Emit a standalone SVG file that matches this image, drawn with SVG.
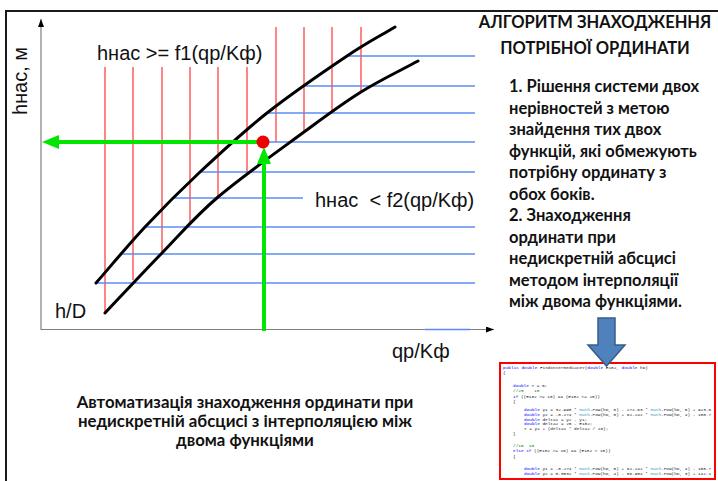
<svg xmlns="http://www.w3.org/2000/svg" width="718" height="481" viewBox="0 0 718 481">
<style>
  .red { stroke: #ff3333; stroke-width: 1.2; fill: none; }
  .blue { stroke: #5b8cf5; stroke-width: 1.5; fill: none; }
  .curve { stroke: #000; stroke-width: 3; fill: none; stroke-linecap: round; }
  .axis { stroke: #7f7f7f; stroke-width: 1.2; fill: none; }
  .green { stroke: #00e600; stroke-width: 4; fill: none; }
  .lbl { font-family: "Liberation Sans", Arial, sans-serif; font-size: 20px; fill: #111; }
  .title { font-family: Lato, "Liberation Sans", sans-serif; font-weight: bold; font-size: 16.5px; fill: #111; text-anchor: middle; }
  .body { font-family: Lato, "Liberation Sans", sans-serif; font-weight: bold; font-size: 16.5px; fill: #111; }
  .cap { font-family: Lato, "Liberation Sans", sans-serif; font-weight: bold; font-size: 16.8px; fill: #111; text-anchor: middle; }
  .code { font-family: "Liberation Mono", "DejaVu Sans Mono", monospace; font-size: 4.4px; fill: #222; white-space: pre; }
  .kw { fill: #0000ff; }
  .ty { fill: #2b91af; }
  .cm { fill: #008000; }
</style>
<defs>
  <marker id="axisHead" viewBox="0 0 8 6" refX="8" refY="3" markerWidth="8" markerHeight="6" markerUnits="userSpaceOnUse" orient="auto">
    <path d="M0,0 L8,3 L0,6 z" fill="#000"/>
  </marker>
  <marker id="greenHead" viewBox="0 0 17 14" refX="0" refY="7" markerWidth="17" markerHeight="14" markerUnits="userSpaceOnUse" orient="auto">
    <path d="M0,0 L17,7 L0,14 z" fill="#00e600"/>
  </marker>
  <clipPath id="codeClip"><rect x="501" y="364" width="213" height="114"/></clipPath>
</defs>

<g id="frame">
  <path d="M6,481 V11 H718" fill="none" stroke="#1a1a1a" stroke-width="2"/>
</g>

<g id="axes">
  <line class="axis" x1="41" y1="330" x2="41" y2="19" marker-end="url(#axisHead)"/>
  <line class="axis" x1="41" y1="329.5" x2="494" y2="329.5" marker-end="url(#axisHead)"/>
  <line class="blue" x1="425" y1="329.5" x2="470" y2="329.5"/>
</g>

<g id="red-verticals">
  <line class="red" x1="105" y1="67" x2="105" y2="313"/>
  <line class="red" x1="133" y1="67" x2="133" y2="280"/>
  <line class="red" x1="162" y1="67" x2="162" y2="253"/>
  <line class="red" x1="190" y1="67" x2="190" y2="225"/>
  <line class="red" x1="218" y1="67" x2="218" y2="197"/>
  <line class="red" x1="247" y1="67" x2="247" y2="173"/>
  <line class="red" x1="276" y1="27" x2="276" y2="142"/>
  <line class="red" x1="304" y1="27" x2="304" y2="132"/>
  <line class="red" x1="332" y1="27" x2="332" y2="112"/>
  <line class="red" x1="361" y1="27" x2="361" y2="92"/>
</g>

<g id="blue-horizontals">
  <line class="blue" x1="347" y1="56" x2="475" y2="56"/>
  <line class="blue" x1="303" y1="86" x2="475" y2="86"/>
  <line class="blue" x1="267" y1="113" x2="475" y2="113"/>
  <line class="blue" x1="262" y1="142" x2="475" y2="142"/>
  <line class="blue" x1="200" y1="172" x2="475" y2="172"/>
  <line class="blue" x1="173" y1="198" x2="303" y2="198"/>
  <line class="blue" x1="145" y1="227" x2="475" y2="227"/>
  <line class="blue" x1="122" y1="254" x2="475" y2="254"/>
  <line class="blue" x1="96" y1="283" x2="475" y2="283"/>
</g>

<g id="curve-f1">
  <path class="curve" d="M96,283 C112.3,264.3 127.7,245.5 145,227 C162.3,208.5 179.7,191 200,172 C220.3,153 242.5,132.3 267,113 C291.5,93.7 325.7,70.3 347,56 C368.3,41.7 379,36.7 395,27"/>
</g>
<g id="curve-f2">
  <path class="curve" d="M105,313 C124,293 143.2,272.3 162,253 C180.8,233.7 194.3,217.2 218,197 C241.7,176.8 280.2,149.5 304,132 C327.8,114.5 342,103.8 361,92 C380,80.2 399,71.3 418,61"/>
</g>

<g id="connectors">
  <line class="green" x1="264" y1="331" x2="264" y2="164" marker-end="url(#greenHead)"/>
  <line class="green" x1="262" y1="142" x2="59" y2="142" marker-end="url(#greenHead)"/>
</g>

<g id="point">
  <circle cx="263" cy="142" r="6.5" fill="#ee0000"/>
</g>

<g id="axis-labels">
  <text class="lbl" font-size="19" transform="translate(27,81) rotate(-90)" text-anchor="middle">hнас, м</text>
  <text class="lbl" x="97" y="60">hнас &gt;= f1(qp/Kф)</text>
  <text class="lbl" x="315" y="207">hнас&#160; &lt; f2(qp/Kф)</text>
  <text class="lbl" x="55" y="318">h/D</text>
  <text class="lbl" x="392" y="358">qp/Kф</text>
</g>

<g id="title">
  <text class="title" x="595" y="28">АЛГОРИТМ ЗНАХОДЖЕННЯ</text>
  <text class="title" x="595" y="54">ПОТРІБНОЇ ОРДИНАТИ</text>
</g>

<g id="steps">
  <text class="body" x="509" y="92">1. Рішення системи двох</text>
  <text class="body" x="509" y="113.5">нерівностей з метою</text>
  <text class="body" x="509" y="135">знайдення тих двох</text>
  <text class="body" x="509" y="156.5">функцій, які обмежують</text>
  <text class="body" x="509" y="178">потрібну ординату з</text>
  <text class="body" x="509" y="199.5">обох боків.</text>
  <text class="body" x="509" y="221">2. Знаходження</text>
  <text class="body" x="509" y="242.5">ординати при</text>
  <text class="body" x="509" y="264">недискретній абсцисі</text>
  <text class="body" x="509" y="285.5">методом інтерполяції</text>
  <text class="body" x="509" y="307">між двома функціями.</text>
</g>

<g id="caption">
  <text class="cap" x="245" y="408">Автоматизація знаходження ординати при</text>
  <text class="cap" x="245" y="427">недискретній абсцисі з інтерполяцією між</text>
  <text class="cap" x="245" y="446">двома функціями</text>
</g>

<g id="code-box">
  <rect x="500" y="363" width="215" height="116" fill="#fff" stroke="#ff0000" stroke-width="2"/>
  <g clip-path="url(#codeClip)">
    <text class="code" x="503" y="368.5"><tspan class="kw">public</tspan> <tspan class="kw">double</tspan> FindIntermediateY(<tspan class="kw">double</tspan> E182, <tspan class="kw">double</tspan> hD)</text>
    <text class="code" x="503" y="373.5">{</text>
    <text class="code" x="513" y="386.5"><tspan class="kw">double</tspan> Y = 0;</text>
    <text class="code" x="513" y="392"><tspan class="cm">//25    15</tspan></text>
    <text class="code" x="513" y="397.5"><tspan class="kw">if</tspan> ((E182 &gt;= 15) &amp;&amp; (E182 &lt;= 25))</text>
    <text class="code" x="513" y="403">{</text>
    <text class="code" x="524" y="411"><tspan class="kw">double</tspan> y1 = 32.998 * <tspan class="ty">Math</tspan>.Pow(hD, 6) - 272.63 * <tspan class="ty">Math</tspan>.Pow(hD, 5) + 923.6</text>
    <text class="code" x="524" y="415.5"><tspan class="kw">double</tspan> y2 = -8.274 * <tspan class="ty">Math</tspan>.Pow(hD, 5) + 62.242 * <tspan class="ty">Math</tspan>.Pow(hD, 4) - 188.7</text>
    <text class="code" x="524" y="420.5"><tspan class="kw">double</tspan> delta1 = y2 - y1;</text>
    <text class="code" x="524" y="425"><tspan class="kw">double</tspan> delta2 = 25 - E182;</text>
    <text class="code" x="524" y="430">Y = y1 + (delta1 * delta2 / 10);</text>
    <text class="code" x="513" y="435">}</text>
    <text class="code" x="513" y="447"><tspan class="cm">//15  10</tspan></text>
    <text class="code" x="513" y="452"><tspan class="kw">else</tspan> <tspan class="kw">if</tspan> ((E182 &gt;= 10) &amp;&amp; (E182 &lt; 15))</text>
    <text class="code" x="513" y="457.5">{</text>
    <text class="code" x="524" y="469.5"><tspan class="kw">double</tspan> y1 = -8.274 * <tspan class="ty">Math</tspan>.Pow(hD, 5) + 62.242 * <tspan class="ty">Math</tspan>.Pow(hD, 4) - 188.7</text>
    <text class="code" x="524" y="474.5"><tspan class="kw">double</tspan> y2 = 8.0032 * <tspan class="ty">Math</tspan>.Pow(hD, 4) - 56.954 * <tspan class="ty">Math</tspan>.Pow(hD, 3) + 142.1</text>
  </g>
</g>

<g id="down-arrow">
  <path d="M598,318 H615 V345 H625 L606.5,366 L588,345 H598 Z" fill="#4f81bd" stroke="#385d8a" stroke-width="1.5"/>
</g>
</svg>
